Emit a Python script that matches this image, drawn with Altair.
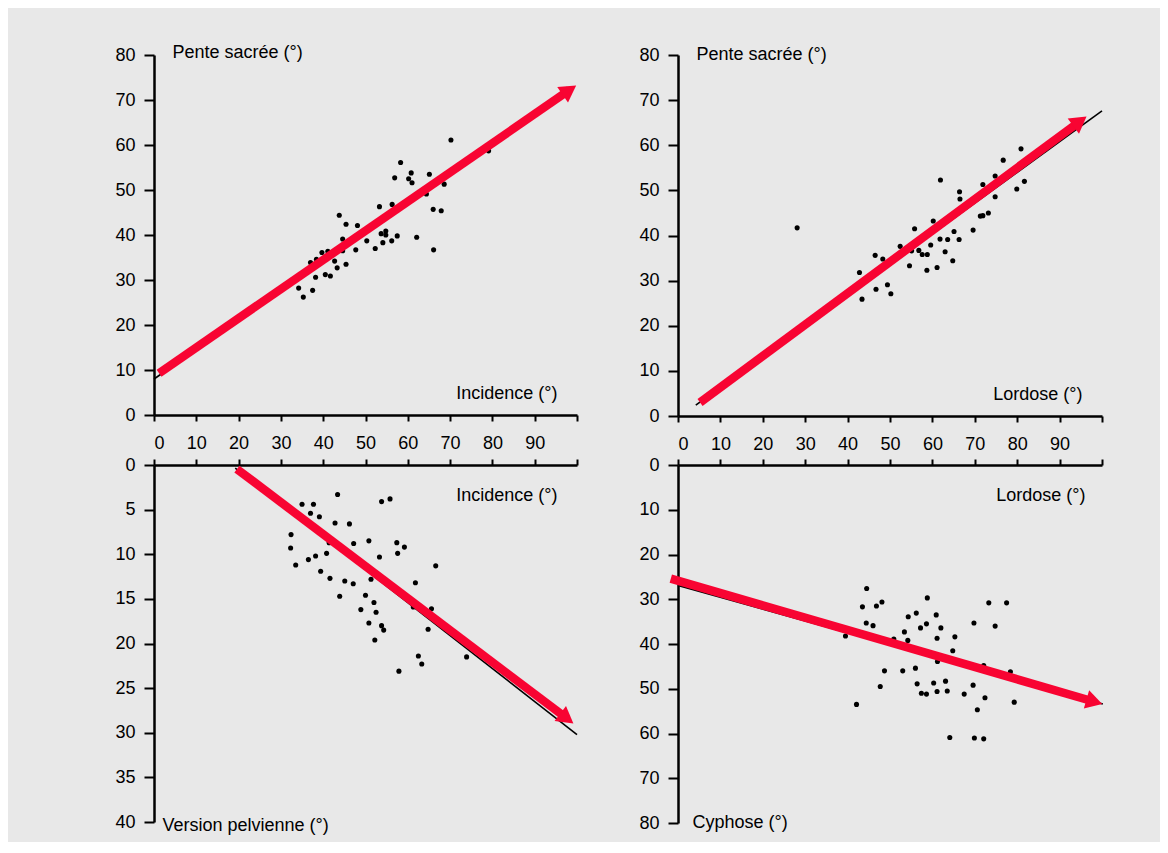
import math
import altair as alt
import pandas as pd

# ---------------- data ----------------
# Panel A : Incidence (x) vs Pente sacrée (y)
inc_ps_x = [70.2, 79.1, 58.3, 56.9, 60.8, 60.2, 61.0, 65.1, 68.6, 64.4, 53.3, 56.3, 66.0, 67.9,
            43.8, 45.4, 48.1, 44.6, 50.3, 47.7, 52.3, 53.7, 54.8, 54.8, 54.1, 56.2, 57.5, 62.1,
            66.1, 39.7, 41.1, 44.6, 38.4, 37.0, 42.7, 43.3, 45.4, 38.2, 40.5, 41.7, 34.2, 37.5, 35.3]
inc_ps_y = [61.1, 58.7, 56.1, 52.7, 53.8, 52.5, 51.6, 53.5, 51.3, 49.1, 46.3, 46.8, 45.7, 45.4,
            44.4, 42.4, 42.1, 39.1, 38.7, 36.7, 37.0, 40.3, 40.9, 40.0, 38.3, 38.7, 39.8, 39.5,
            36.7, 36.1, 36.4, 36.5, 34.6, 33.9, 34.2, 32.7, 33.5, 30.6, 31.2, 30.9, 28.2, 27.7, 26.2]
inc_ps_red_x = [1.2, 98.2]
inc_ps_red_y = [9.3, 72.2]
inc_ps_blk_x = [0.0, 98.0]
inc_ps_blk_y = [8.0, 71.6]

# Panel B : Lordose (x) vs Pente sacrée (y)
lor_ps_x = [80.9, 76.7, 74.8, 61.9, 71.9, 66.4, 66.5, 74.8, 79.9, 81.7, 71.3, 71.9, 73.2, 69.6,
            60.2, 55.8, 65.1, 66.3, 63.6, 61.8, 59.6, 52.4, 55.1, 56.8, 57.6, 58.8, 63.0, 64.8,
            61.1, 58.7, 54.6, 46.5, 48.3, 42.8, 46.7, 49.4, 50.2, 43.4, 28.1]
lor_ps_y = [59.2, 56.7, 53.2, 52.3, 51.3, 49.7, 48.1, 48.6, 50.3, 52.0, 44.3, 44.4, 45.0, 41.2,
            43.2, 41.5, 40.9, 39.1, 39.1, 39.2, 37.9, 37.6, 36.6, 36.7, 35.8, 35.8, 36.4, 34.4,
            32.9, 32.3, 33.3, 35.6, 34.8, 31.8, 28.1, 29.1, 27.1, 25.9, 41.7]
lor_ps_red_x = [5.2, 94.8]
lor_ps_red_y = [3.0, 65.3]
lor_ps_blk_x = [4.2, 100.0]
lor_ps_blk_y = [2.4, 67.6]

# Panel C : Incidence (x) vs Version pelvienne (y, downward)
inc_vp_x = [43.4, 35.0, 37.7, 53.8, 55.8, 37.0, 39.1, 42.8, 46.2, 32.4, 32.3, 41.4, 47.2, 50.8,
            57.4, 59.2, 57.6, 40.8, 38.2, 36.5, 33.5, 53.3, 66.6, 39.4, 41.6, 45.1, 47.1, 51.3,
            61.8, 43.9, 50.0, 52.0, 61.3, 65.6, 48.9, 52.5, 50.8, 53.8, 54.3, 64.8, 52.2, 62.5,
            63.3, 73.9, 57.9]
inc_vp_y = [3.3, 4.4, 4.4, 4.1, 3.8, 5.4, 5.8, 6.5, 6.6, 7.8, 9.3, 8.7, 8.8, 8.5,
            8.7, 9.2, 9.9, 9.9, 10.2, 10.6, 11.2, 10.3, 11.3, 11.9, 12.7, 13.0, 13.3, 12.8,
            13.2, 14.7, 14.6, 15.4, 15.9, 16.1, 16.2, 16.5, 17.7, 18.0, 18.5, 18.4, 19.6, 21.4,
            22.3, 21.5, 23.1]
inc_vp_red_x = [19.6, 97.6]
inc_vp_red_y = [0.45, 28.4]
inc_vp_blk_x = [19.2, 100.0]
inc_vp_blk_y = [0.35, 30.2]

# Panel D : Lordose (x) vs Cyphose (y, downward)
lor_cy_x = [44.5, 43.5, 46.8, 48.1, 58.8, 73.3, 77.5, 44.4, 46.0, 54.3, 56.2, 60.9, 58.6, 57.2,
            62.0, 69.8, 74.8, 39.5, 50.9, 53.4, 54.2, 61.1, 65.3, 64.8, 61.2, 72.1, 78.4, 48.7,
            53.0, 56.0, 47.7, 56.4, 60.3, 63.1, 69.6, 57.4, 58.6, 61.1, 63.5, 67.5, 72.4, 79.3,
            42.1, 70.6, 64.1, 69.9, 72.1]
lor_cy_y = [27.6, 31.7, 31.5, 30.6, 29.7, 30.8, 30.8, 35.3, 35.9, 33.9, 33.1, 33.5, 35.5, 36.4,
            36.4, 35.3, 36.0, 38.2, 38.9, 37.3, 39.2, 38.7, 38.4, 41.5, 43.9, 44.8, 46.2, 46.0,
            46.0, 45.4, 49.5, 48.9, 48.7, 48.3, 49.2, 51.0, 51.2, 50.6, 50.5, 51.2, 52.0, 53.0,
            53.5, 54.7, 60.9, 61.0, 61.2]
lor_cy_red_x = [-1.7, 98.2]
lor_cy_red_y = [25.4, 52.9]
lor_cy_blk_x = [0.0, 100.2]
lor_cy_blk_y = [26.9, 53.4]

x_ticks = [0, 10, 20, 30, 40, 50, 60, 70, 80, 90, 100]
y_ticks_80 = [0, 10, 20, 30, 40, 50, 60, 70, 80]
y_ticks_40 = [0, 5, 10, 15, 20, 25, 30, 35, 40]

RED = "#f80432"
INK = "#000000"
FONT = "Liberation Sans"


def panel(xs, ys, rx, ry, bx, by, ymax, yticks, down, xtitle, ytitle,
          w, h, xt_pos, yt_pos):
    pts = pd.DataFrame({"x": xs, "y": ys})
    red = pd.DataFrame({"x": rx, "y": ry})
    blk = pd.DataFrame({"x": bx, "y": by})
    head = pd.DataFrame({"x": [rx[1]], "y": [ry[1]]})

    # direction of the arrow on screen
    kx = w / 100.0
    ky = h / float(ymax)
    dx = (rx[1] - rx[0]) * kx
    dy = (ry[1] - ry[0]) * ky * (1 if down else -1)
    ang = math.degrees(math.atan2(dy, dx)) % 360

    if down:
        xaxis = alt.Axis(orient="top", values=x_ticks, labels=False, tickSize=6,
                         title=xtitle, titleAlign="right", titleBaseline="middle",
                         titleX=xt_pos[0], titleY=xt_pos[1])
    else:
        xaxis = alt.Axis(orient="bottom", values=x_ticks, tickSize=6, labelPadding=13,
                         labelExpr="datum.value < 100 ? datum.label : ''",
                         title=xtitle, titleAlign="right", titleBaseline="middle",
                         titleX=xt_pos[0], titleY=xt_pos[1])
    yaxis = alt.Axis(orient="left", values=yticks, tickSize=10, labelPadding=9,
                     title=ytitle, titleAngle=0, titleAlign="left",
                     titleBaseline="middle", titleX=yt_pos[0], titleY=yt_pos[1])

    xenc = alt.X("x:Q", scale=alt.Scale(domain=[0, 100], nice=False, zero=False), axis=xaxis)
    yenc = alt.Y("y:Q", scale=alt.Scale(domain=[0, ymax], nice=False, zero=False,
                                        reverse=down), axis=yaxis)

    p = alt.Chart(pts).mark_circle(size=26, color=INK, opacity=1).encode(x=xenc, y=yenc)
    b = alt.Chart(blk).mark_line(color="black", strokeWidth=1.6).encode(x=xenc, y=yenc)
    r = alt.Chart(red).mark_line(color=RED, strokeWidth=8.5, strokeCap="butt").encode(x=xenc, y=yenc)
    hd = alt.Chart(head).mark_point(shape="triangle-right", filled=True, size=360,
                                    color=RED, opacity=1, angle=ang).encode(x=xenc, y=yenc)
    return alt.layer(p, b, r, hd).properties(width=w, height=h)


pA = panel(inc_ps_x, inc_ps_y, inc_ps_red_x, inc_ps_red_y, inc_ps_blk_x, inc_ps_blk_y,
           80, y_ticks_80, False, "Incidence (°)", "Pente sacrée (°)", 423, 360,
           (403, -22), (18, -3))
pB = panel(lor_ps_x, lor_ps_y, lor_ps_red_x, lor_ps_red_y, lor_ps_blk_x, lor_ps_blk_y,
           80, y_ticks_80, False, "Lordose (°)", "Pente sacrée (°)", 424, 361,
           (404, -22), (18, -1))
pC = panel(inc_vp_x, inc_vp_y, inc_vp_red_x, inc_vp_red_y, inc_vp_blk_x, inc_vp_blk_y,
           40, y_ticks_40, True, "Incidence (°)", "Version pelvienne (°)", 423, 357,
           (403, 30), (8, 360))
pD = panel(lor_cy_x, lor_cy_y, lor_cy_red_x, lor_cy_red_y, lor_cy_blk_x, lor_cy_blk_y,
           80, y_ticks_80, True, "Lordose (°)", "Cyphose (°)", 424, 358,
           (407, 30), (14, 357))

chart = alt.concat(pA, pB, pC, pD, columns=2, bounds="flush",
                   spacing={"row": 49, "column": 101}).properties(
    padding={"left": 106, "top": 35, "right": 48, "bottom": 8},
    background="#e8e8e8",
).configure_view(strokeWidth=0).configure_axis(
    grid=False,
    domainColor="black", domainWidth=2.5,
    tickColor="black", tickWidth=2,
    labelFont=FONT, labelFontSize=18, labelColor=INK,
    titleFont=FONT, titleFontSize=18, titleFontWeight="normal", titleColor=INK,
)

chart.save("out.html", embed_options={"renderer": "svg", "actions": False})
